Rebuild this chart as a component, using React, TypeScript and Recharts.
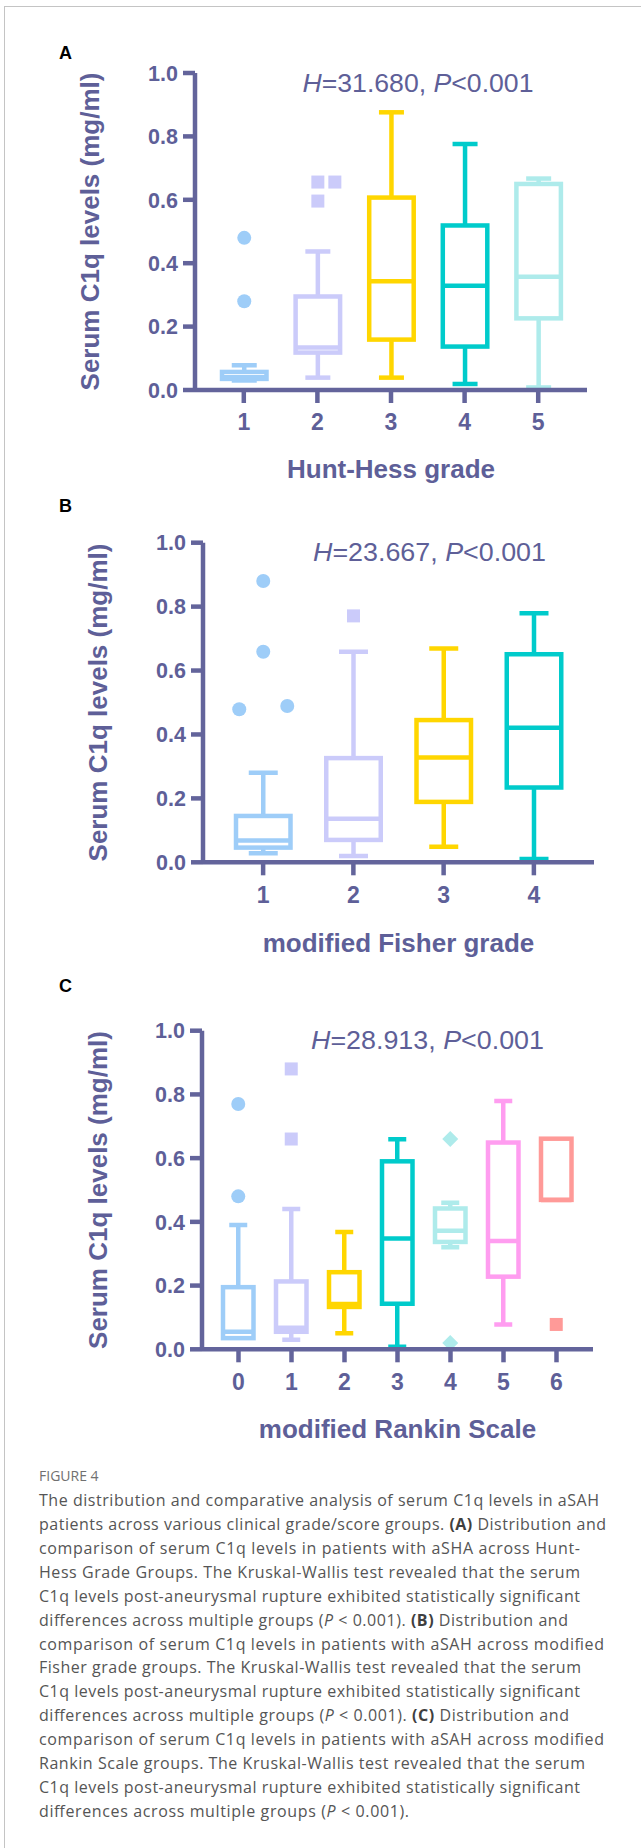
import React from "react";
import { Bar, ComposedChart, XAxis, YAxis } from "recharts";

// values, serum C1q in mg/ml
const huntGrades = ["1", "2", "3", "4", "5"];
const huntMin = [0.03, 0.039, 0.039, 0.019, 0.008];
const huntQ1 = [0.035, 0.118, 0.159, 0.137, 0.226];
const huntMedian = [0.04, 0.134, 0.343, 0.329, 0.357];
const huntQ3 = [0.057, 0.295, 0.607, 0.519, 0.65];
const huntMax = [0.078, 0.437, 0.876, 0.776, 0.667];
const huntOutliers = [[0.48, 0.28], [0.656, 0.656, 0.596], [], [], []];
const huntDodge = [[0, 0], [0, 1, 0], [], [], []];

const fisherGrades = ["1", "2", "3", "4"];
const fisherMin = [0.028, 0.02, 0.049, 0.01];
const fisherQ1 = [0.046, 0.07, 0.189, 0.234];
const fisherMedian = [0.068, 0.136, 0.328, 0.421];
const fisherQ3 = [0.145, 0.326, 0.445, 0.651];
const fisherMax = [0.28, 0.659, 0.669, 0.779];
const fisherOutliers = [[0.88, 0.659, 0.479, 0.489], [0.771], [], []];
const fisherDodge = [[0, 0, -1, 1], [0], [], []];

const rankinScores = ["0", "1", "2", "3", "4", "5", "6"];
const rankinMin = [0.035, 0.03, 0.05, 0.008, 0.32, 0.078, 0.469];
const rankinQ1 = [0.035, 0.055, 0.133, 0.143, 0.337, 0.228, 0.469];
const rankinMedian = [0.055, 0.068, 0.142, 0.348, 0.372, 0.34, 0.469];
const rankinQ3 = [0.195, 0.213, 0.242, 0.59, 0.442, 0.649, 0.661];
const rankinMax = [0.39, 0.44, 0.368, 0.659, 0.46, 0.779, 0.661];
const rankinOutliers = [[0.77, 0.48], [0.88, 0.66], [], [], [0.66, 0.02], [], [0.078]];
const rankinDodge = [[0, 0], [0, 0], [], [], [0, 0], [], [0]];

const yTicks = [0, 0.2, 0.4, 0.6, 0.8, 1.0];

const huntStat = ["31.680", "0.001"];
const fisherStat = ["23.667", "0.001"];
const rankinStat = ["28.913", "0.001"];

const captionLines = [
  "The distribution and comparative analysis of serum C1q levels in aSAH",
  "patients across various clinical grade/score groups. **(A)** Distribution and",
  "comparison of serum C1q levels in patients with aSHA across Hunt-",
  "Hess Grade Groups. The Kruskal-Wallis test revealed that the serum",
  "C1q levels post-aneurysmal rupture exhibited statistically significant",
  "differences across multiple groups (_P_ < 0.001). **(B)** Distribution and",
  "comparison of serum C1q levels in patients with aSAH across modified",
  "Fisher grade groups. The Kruskal-Wallis test revealed that the serum",
  "C1q levels post-aneurysmal rupture exhibited statistically significant",
  "differences across multiple groups (_P_ < 0.001). **(C)** Distribution and",
  "comparison of serum C1q levels in patients with aSAH across modified",
  "Rankin Scale groups. The Kruskal-Wallis test revealed that the serum",
  "C1q levels post-aneurysmal rupture exhibited statistically significant",
  "differences across multiple groups (_P_ < 0.001).",
];
const captionWidths = [560, 567, 541, 541, 541, 529, 565, 542, 541, 530, 565, 546, 541, 370];

// styling
const AXIS = "#63649b";
const TEXT = "#5e5f98";
const FONT = "'Liberation Sans', Arial, sans-serif";
const SW = 4.5;

const BLUE = "#9ecdf8";
const LAV = "#cbcbfa";
const GOLD = "#ffd600";
const TEAL = "#00cbcb";
const PALE = "#aeebeb";
const PINK = "#ff9df0";
const SALMON = "#ff9a98";

type Row = {
  cat: string;
  range: [number, number];
  q1: number;
  median: number;
  q3: number;
  outliers: number[];
  dodge: number[];
};

function buildRows(
  cats: string[],
  min: number[],
  q1: number[],
  med: number[],
  q3: number[],
  max: number[],
  out: number[][],
  dodge: number[][]
): Row[] {
  return cats.map((cat, i) => ({
    cat,
    range: [min[i], max[i]],
    q1: q1[i],
    median: med[i],
    q3: q3[i],
    outliers: out[i],
    dodge: dodge[i],
  }));
}

const panels = [
  {
    letter: "A",
    top: 0,
    height: 500,
    margin: { top: 73, right: 54, bottom: 60, left: 135 },
    pad: 12,
    barSize: 44.5,
    capWidth: 25,
    slotGap: 17,
    colors: [BLUE, LAV, GOLD, TEAL, PALE],
    symbols: ["circle", "square", "square", "square", "square"],
    rows: buildRows(huntGrades, huntMin, huntQ1, huntMedian, huntQ3, huntMax, huntOutliers, huntDodge),
    stat: huntStat,
    title: "Hunt-Hess grade",
    letterY: 59,
    statX: 302.5,
    statY: 92,
    statW: 231,
    titleY: 478,
    yTitleX: 90,
  },
  {
    letter: "B",
    top: 470,
    height: 490,
    margin: { top: 72.7, right: 47, bottom: 47.7, left: 143 },
    pad: 15,
    barSize: 54.5,
    capWidth: 29,
    slotGap: 24,
    colors: [BLUE, LAV, GOLD, TEAL],
    symbols: ["circle", "square", "square", "square"],
    rows: buildRows(fisherGrades, fisherMin, fisherQ1, fisherMedian, fisherQ3, fisherMax, fisherOutliers, fisherDodge),
    stat: fisherStat,
    title: "modified Fisher grade",
    letterY: 41.5,
    statX: 313,
    statY: 91,
    statW: 233,
    titleY: 481.5,
    yTitleX: 98,
  },
  {
    letter: "C",
    top: 960,
    height: 490,
    margin: { top: 70.7, right: 48, bottom: 50.7, left: 142 },
    pad: 10,
    barSize: 30.5,
    capWidth: 18,
    slotGap: 17,
    colors: [BLUE, LAV, GOLD, TEAL, PALE, PINK, SALMON],
    symbols: ["circle", "square", "square", "square", "diamond", "square", "square"],
    rows: buildRows(rankinScores, rankinMin, rankinQ1, rankinMedian, rankinQ3, rankinMax, rankinOutliers, rankinDodge),
    stat: rankinStat,
    title: "modified Rankin Scale",
    letterY: 31.5,
    statX: 311,
    statY: 89,
    statW: 233,
    titleY: 478.3,
    yTitleX: 98,
  },
];

type Panel = (typeof panels)[number];

function Marker({ kind, cx, cy, color }: { kind: string; cx: number; cy: number; color: string }) {
  if (kind === "circle") return <circle cx={cx} cy={cy} r={7} fill={color} />;
  if (kind === "diamond")
    return (
      <polygon
        points={`${cx},${cy - 8} ${cx + 8},${cy} ${cx},${cy + 8} ${cx - 8},${cy}`}
        fill={color}
      />
    );
  return <rect x={cx - 6.5} y={cy - 6.5} width={13} height={13} fill={color} />;
}

// draws one box-and-whisker from the range bar the library lays out
function makeBoxShape(p: Panel) {
  return (props: any) => {
    const { x, y, width, height, payload, index } = props;
    const row = payload as Row;
    const top = Math.min(y, y + height);
    const h = Math.abs(height);
    const [lo, hi] = row.range;
    const pix = (v: number) => top + ((hi - v) / (hi - lo)) * h;
    const cx = x + width / 2;
    const color = p.colors[index];
    const half = p.capWidth / 2;
    const yQ1 = pix(row.q1);
    const yQ3 = pix(row.q3);
    return (
      <g>
        {hi > row.q3 && (
          <g stroke={color} strokeWidth={SW}>
            <line x1={cx} x2={cx} y1={yQ3} y2={pix(hi)} />
            <line x1={cx - half} x2={cx + half} y1={pix(hi)} y2={pix(hi)} />
          </g>
        )}
        {lo < row.q1 && (
          <g stroke={color} strokeWidth={SW}>
            <line x1={cx} x2={cx} y1={yQ1} y2={pix(lo)} />
            <line x1={cx - half} x2={cx + half} y1={pix(lo)} y2={pix(lo)} />
          </g>
        )}
        <rect x={x} y={yQ3} width={width} height={yQ1 - yQ3} fill="none" stroke={color} strokeWidth={SW} />
        <line x1={x} x2={x + width} y1={pix(row.median)} y2={pix(row.median)} stroke={color} strokeWidth={SW} />
        {row.outliers.map((v, k) => (
          <Marker
            key={k}
            kind={p.symbols[index]}
            cx={cx + row.dodge[k] * p.slotGap}
            cy={pix(v)}
            color={color}
          />
        ))}
      </g>
    );
  };
}

const XTick = (props: any) => {
  const { x, y, payload } = props;
  return (
    <text x={x} y={y} dy="0.71em" textAnchor="middle" fontFamily={FONT} fontWeight="bold" fontSize={23} fill={TEXT}>
      {payload.value}
    </text>
  );
};

const YTick = (props: any) => {
  const { x, y, payload } = props;
  return (
    <text x={x} y={y} dy="0.36em" textAnchor="end" fontFamily={FONT} fontWeight="bold" fontSize={21.5} fill={TEXT}>
      {Number(payload.value).toFixed(1)}
    </text>
  );
};

function BoxPanel({ p }: { p: Panel }) {
  return (
    <div style={{ position: "absolute", left: 0, top: p.top }}>
      <ComposedChart width={641} height={p.height} data={p.rows} margin={p.margin}>
        <XAxis
          dataKey="cat"
          type="category"
          padding={{ left: p.pad, right: p.pad }}
          interval={0}
          height={50}
          tickSize={13}
          tickMargin={11}
          axisLine={{ stroke: AXIS, strokeWidth: SW }}
          tickLine={{ stroke: AXIS, strokeWidth: SW }}
          tick={(props: any) => <XTick {...props} />}
        />
        <YAxis
          type="number"
          domain={[0, 1]}
          ticks={yTicks}
          width={60}
          tickSize={12}
          tickMargin={5}
          allowDataOverflow
          axisLine={{ stroke: AXIS, strokeWidth: SW }}
          tickLine={{ stroke: AXIS, strokeWidth: SW }}
          tick={(props: any) => <YTick {...props} />}
        />
        <Bar dataKey="range" barSize={p.barSize} isAnimationActive={false} shape={makeBoxShape(p)} />
      </ComposedChart>
    </div>
  );
}

function renderCaptionLine(line: string) {
  const parts = line.split(/(\*\*[^*]+\*\*|_[^_]+_)/).filter((s) => s.length > 0);
  return parts.map((s, i) => {
    if (s.startsWith("**")) return <tspan key={i} fontWeight="bold" fill="#3f3f3f">{s.slice(2, -2)}</tspan>;
    if (s.startsWith("_")) return <tspan key={i} fontStyle="italic">{s.slice(1, -1)}</tspan>;
    return <tspan key={i}>{s}</tspan>;
  });
}

function Overlay() {
  return (
    <svg width={641} height={1848} style={{ position: "absolute", left: 0, top: 0, pointerEvents: "none" }}>
      {panels.map((p) => {
        const plotLeft = p.margin.left + 60;
        const plotRight = 641 - p.margin.right;
        const plotTop = p.margin.top;
        const plotBottom = p.height - p.margin.bottom - 50;
        const midY = p.top + (plotTop + plotBottom) / 2;
        return (
          <g key={p.letter}>
            <text x={59} y={p.top + p.letterY} fontFamily={FONT} fontWeight="bold" fontSize={18} fill="#000">
              {p.letter}
            </text>
            <text
              x={p.statX}
              y={p.top + p.statY}
              fontFamily={FONT}
              fontSize={26}
              fill={TEXT}
              textLength={p.statW}
              lengthAdjust="spacingAndGlyphs"
            >
              <tspan fontStyle="italic">H</tspan>
              <tspan>{`=${p.stat[0]},  `}</tspan>
              <tspan fontStyle="italic">P</tspan>
              <tspan>{`<${p.stat[1]}`}</tspan>
            </text>
            <text
              x={(plotLeft + plotRight) / 2}
              y={p.top + p.titleY}
              textAnchor="middle"
              fontFamily={FONT}
              fontWeight="bold"
              fontSize={26}
              fill={TEXT}
            >
              {p.title}
            </text>
            <text
              x={p.yTitleX}
              y={midY}
              dy={9.3}
              textAnchor="middle"
              transform={`rotate(-90 ${p.yTitleX} ${midY})`}
              fontFamily={FONT}
              fontWeight="bold"
              fontSize={26}
              fill={TEXT}
            >
              Serum C1q levels (mg/ml)
            </text>
          </g>
        );
      })}
      <text x={39} y={1480.5} fontFamily="'Open Sans', sans-serif" fontSize={14} fill="#707070">
        FIGURE 4
      </text>
      {captionLines.map((line, i) => (
        <text
          key={i}
          x={39}
          y={1506 + i * 23.92}
          fontFamily="'Open Sans', sans-serif"
          fontSize={16}
          fill="#555"
          textLength={captionWidths[i]}
          lengthAdjust="spacing"
        >
          {renderCaptionLine(line)}
        </text>
      ))}
    </svg>
  );
}

export default function App() {
  return (
    <div
      style={{
        position: "absolute",
        left: 0,
        top: 0,
        width: 641,
        height: 1848,
        overflow: "hidden",
        background: "#fff",
      }}
    >
      <div
        style={{
          position: "absolute",
          left: 4,
          top: 6,
          width: 700,
          height: 1900,
          borderLeft: "1px solid #c4c4c4",
          borderTop: "1px solid #c4c4c4",
        }}
      />
      {panels.map((p) => (
        <BoxPanel key={p.letter} p={p} />
      ))}
      <Overlay />
    </div>
  );
}
